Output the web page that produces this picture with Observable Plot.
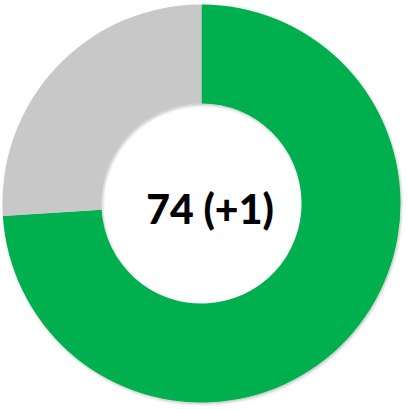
<!DOCTYPE html>
<html>
<head>
<meta charset="utf-8">
<script src="https://cdn.jsdelivr.net/npm/d3@7"></script>
<script src="https://cdn.jsdelivr.net/npm/@observablehq/plot@0.6"></script>
<style>
  html, body { margin: 0; padding: 0; background: #fff; }
  #chart svg { display: block; }
</style>
</head>
<body>
<div id="chart"></div>
<script>
const categories = ["Agree", "Other"];
const values = [74, 26];
const colors = ["#00B050", "#C8C8C8"];
const centerValue = 74;
const centerChange = "+1";

const data = categories.map((c, i) => ({category: c, value: values[i]}));

const donut = (index, scales, channels, dimensions, context) => {
  const sx = scales.x, sy = scales.y;
  const cx = sx(0), cy = sy(0);
  const r = Math.abs(sx(1) - sx(0));
  const g = d3.create("svg:g");
  const pie = d3.pie().sort(null).value(d => d.value);
  const arc = d3.arc().innerRadius(r * 0.503).outerRadius(r);
  const defs = g.append("defs");
  const f = defs.append("filter").attr("id", "sh").attr("x", "-10%").attr("y", "-10%").attr("width", "120%").attr("height", "120%");
  f.append("feDropShadow").attr("dx", 1).attr("dy", 1.5).attr("stdDeviation", 1.5).attr("flood-color", "#000").attr("flood-opacity", 0.25);
  g.append("g")
    .attr("transform", `translate(${cx},${cy})`)
    .attr("filter", "url(#sh)")
    .selectAll("path")
    .data(pie(data))
    .join("path")
    .attr("d", arc)
    .attr("fill", (d, i) => colors[i]);
  return g.node();
};

const plot = Plot.plot({
  width: 407,
  height: 409,
  margin: 0,
  x: {domain: [-1, 1], range: [2.5, 400.5], axis: null},
  y: {domain: [-1, 1], range: [402.5, 4.5], axis: null},
  style: {background: "#fff"},
  marks: [
    donut,
    Plot.text([`${centerValue} (${centerChange})`], {
      x: () => 0, y: () => 0, text: d => d,
      dy: 7, dx: 8,
      fontSize: 41, fontWeight: 900,
      fontFamily: "Lato, 'Open Sans', sans-serif",
      fill: "#000"
    })
  ]
});
document.getElementById("chart").appendChild(plot);
</script>
</body>
</html>
